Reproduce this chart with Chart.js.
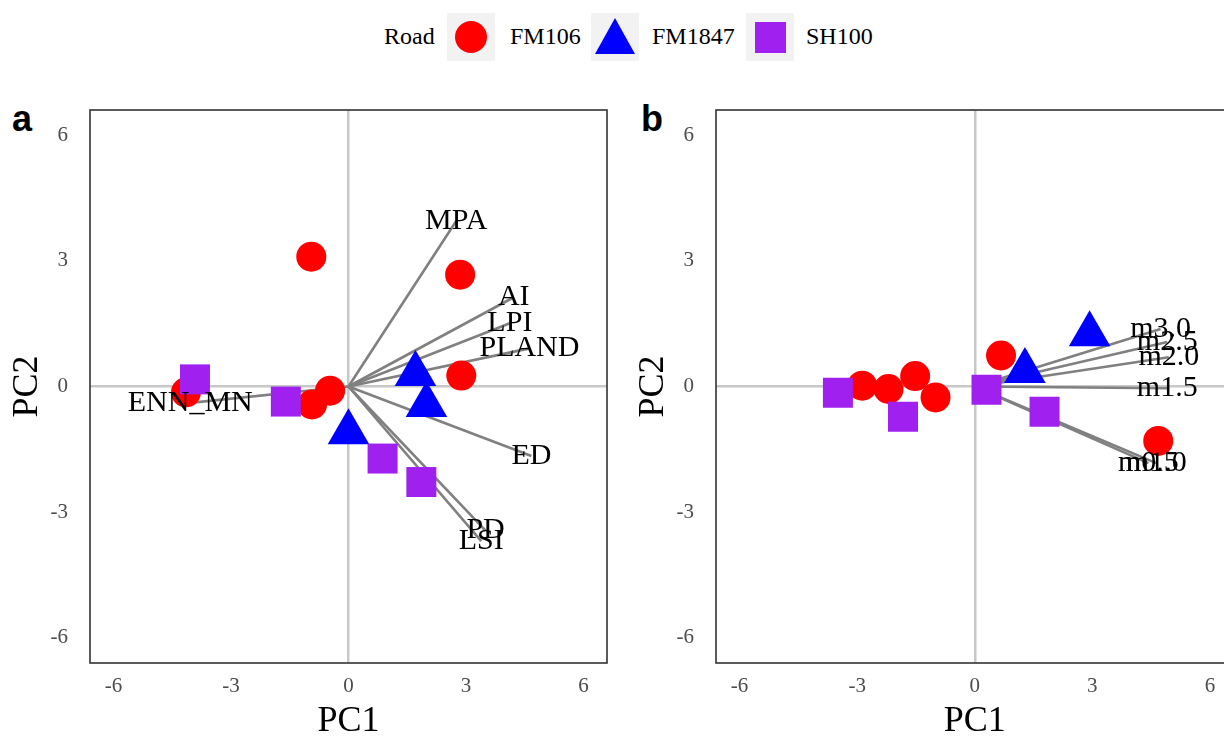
<!DOCTYPE html>
<html lang="en">
<head>
<meta charset="UTF-8">
<title>PCA biplots by road</title>
<style>
  * { box-sizing: border-box; margin: 0; padding: 0; }
  body {
    width: 1224px;
    height: 736px;
    overflow: hidden;
    background: #fff;
    position: relative;
    font-family: "Liberation Serif", "Times New Roman", serif;
  }
  .lg-text { position: absolute; top: 12px; height: 48px; line-height: 48px; font-size: 24px; color: #000; }
  .lg-key { position: absolute; top: 13px; width: 48px; height: 48px; background: #f2f2f2; }
  .lg-key .circle { position: absolute; left: 8px; top: 8px; width: 32px; height: 32px; border-radius: 50%; background: #ff0000; }
  .lg-key .tri { position: absolute; left: 4px; top: 5px; width: 0; height: 0;
    border-left: 20px solid transparent; border-right: 20px solid transparent; border-bottom: 36px solid #0000ff; }
  .lg-key .sq { position: absolute; left: 9px; top: 9px; width: 31px; height: 31px; background: #a020f0; }
  .tag { position: absolute; top: 98px; font-family: "Liberation Sans", Arial, sans-serif; font-weight: bold; font-size: 36px; }
  .panel { position: absolute; top: 90px; height: 660px; }
</style>
<script src="https://cdn.jsdelivr.net/npm/chart.js"></script>
</head>
<body>
  <div class="lg-text" style="left:384px">Road</div>
  <div class="lg-key" style="left:447px"><div class="circle"></div></div>
  <div class="lg-text" style="left:510px">FM106</div>
  <div class="lg-key" style="left:591px"><div class="tri"></div></div>
  <div class="lg-text" style="left:652px">FM1847</div>
  <div class="lg-key" style="left:746px"><div class="sq"></div></div>
  <div class="lg-text" style="left:806px">SH100</div>

  <div class="tag" style="left:12px">a</div>
  <div class="tag" style="left:641px">b</div>

  <div class="panel" style="left:0; width:620px;"><canvas id="chartA" width="620" height="660"></canvas></div>
  <div class="panel" style="left:620px; width:630px;"><canvas id="chartB" width="630" height="660"></canvas></div>

<script>
// axis ticks (both panels, both axes)
const pcTicks = [-6, -3, 0, 3, 6];

// panel a: individuals (PC1, PC2)
const aFM106 = [[-0.95, 3.1], [2.85, 2.67], [2.88, 0.26], [-0.47, -0.1], [-0.93, -0.43], [-4.15, -0.14]];
const aFM1847 = [[1.71, 0.3], [1.99, -0.44], [0, -1.09]];
const aSH100 = [[-3.92, 0.17], [-1.6, -0.36], [0.87, -1.72], [1.86, -2.28]];

// panel a: variables
const aVarNames = ['MPA', 'AI', 'LPI', 'PLAND', 'ED', 'PD', 'LSI', 'ENN_MN'];
const aVarPC1 = [2.75, 4.22, 4.12, 4.62, 4.67, 3.5, 3.39, -4.04];
const aVarPC2 = [3.95, 2.13, 1.51, 0.91, -1.66, -3.44, -3.69, -0.39];

// panel b: individuals
const bFM106 = [[0.67, 0.74], [-2.87, 0.02], [-2.2, -0.06], [-1.52, 0.25], [-1.0, -0.26], [4.68, -1.3]];
const bFM1847 = [[1.28, 0.37], [2.93, 1.25]];
const bSH100 = [[0.3, -0.08], [-3.49, -0.15], [-1.83, -0.72], [1.78, -0.6]];

// panel b: variables
const bVarNames = ['m3.0', 'm2.5', 'm2.0', 'm1.5', 'm0.5', 'm1.0'];
const bVarPC1 = [4.74, 4.91, 4.95, 4.91, 4.43, 4.63];
const bVarPC2 = [1.37, 1.06, 0.7, -0.04, -1.83, -1.83];

const roadNames = ['FM106', 'FM1847', 'SH100'];

const toXY = pts => pts.map(p => ({ x: p[0], y: p[1] }));

function panelDecor(names, px, py) {
    return {
        id: 'decor',
        afterDatasetsDraw(chart) {
            const { ctx, chartArea, scales } = chart;
            ctx.save();
            ctx.font = '30px "Liberation Serif"';
            ctx.fillStyle = '#000';
            ctx.textAlign = 'center';
            ctx.textBaseline = 'middle';
            names.forEach((n, i) => {
                ctx.fillText(n, scales.x.getPixelForValue(px[i]), scales.y.getPixelForValue(py[i]));
            });
            // panel border
            ctx.strokeStyle = '#333333';
            ctx.lineWidth = 1.6;
            ctx.strokeRect(chartArea.left, chartArea.top, chartArea.right - chartArea.left, chartArea.bottom - chartArea.top);
            ctx.restore();
        }
    };
}

function makePanel(id, fm106, fm1847, sh100, names, px, py, yWidth, yTitlePad, rightPad) {
    const arrows = names.map((n, i) => ({
        label: n,
        data: [{ x: 0, y: 0 }, { x: px[i], y: py[i] }],
        showLine: true,
        borderColor: '#808080',
        borderWidth: 2.6,
        pointRadius: 0,
        order: 10
    }));
    const zeroGrid = c => (c.tick && c.tick.value === 0) ? '#c8c8c8' : 'rgba(0,0,0,0)';
    const tickFont = { family: '"Liberation Serif"', size: 21 };
    const titleFont = { family: '"Liberation Serif"', size: 36 };
    new Chart(document.getElementById(id), {
        type: 'scatter',
        data: {
            datasets: arrows.concat([
                { label: roadNames[0], data: toXY(fm106), pointStyle: 'circle', pointRadius: 15,
                  backgroundColor: '#ff0000', borderColor: '#ff0000', borderWidth: 0, order: 3 },
                { label: roadNames[1], data: toXY(fm1847), pointStyle: 'triangle', pointRadius: 24,
                  backgroundColor: '#0000ff', borderColor: '#0000ff', borderWidth: 0, order: 2 },
                { label: roadNames[2], data: toXY(sh100), pointStyle: 'rect', pointRadius: 21.2,
                  backgroundColor: '#a020f0', borderColor: '#a020f0', borderWidth: 0, order: 1 }
            ])
        },
        options: {
            responsive: false,
            animation: false,
            devicePixelRatio: 1,
            layout: { autoPadding: false, padding: { top: 20, right: rightPad, left: 0, bottom: 0 } },
            plugins: { legend: { display: false }, tooltip: { enabled: false } },
            scales: {
                x: {
                    type: 'linear', min: -6.6, max: 6.6,
                    afterBuildTicks: s => { s.ticks = pcTicks.map(v => ({ value: v })); },
                    afterFit: s => { s.height = 87; s.paddingLeft = 0; s.paddingRight = 0; },
                    grid: { color: zeroGrid, lineWidth: 2.5, drawTicks: false },
                    border: { display: false },
                    ticks: { font: tickFont, color: '#4d4d4d', padding: 11, callback: v => String(v) },
                    title: { display: true, text: 'PC1', font: titleFont, color: '#000', padding: { top: 0, bottom: 7 } }
                },
                y: {
                    type: 'linear', min: -6.6, max: 6.6,
                    afterBuildTicks: s => { s.ticks = pcTicks.map(v => ({ value: v })); },
                    afterFit: s => { s.width = yWidth; s.paddingTop = 0; s.paddingBottom = 0; },
                    grid: { color: zeroGrid, lineWidth: 2.5, drawTicks: false },
                    border: { display: false },
                    ticks: { font: tickFont, color: '#4d4d4d', padding: 22, callback: v => String(v) },
                    title: { display: true, text: 'PC2', font: titleFont, color: '#000', padding: { top: yTitlePad, bottom: 0 } }
                }
            }
        },
        plugins: [panelDecor(names, px, py)]
    });
}

makePanel('chartA', aFM106, aFM1847, aSH100, aVarNames, aVarPC1, aVarPC2, 90, 6, 13);
makePanel('chartB', bFM106, bFM1847, bSH100, bVarNames, bVarPC1, bVarPC2, 96, 12, 16.5);
</script>
</body>
</html>
